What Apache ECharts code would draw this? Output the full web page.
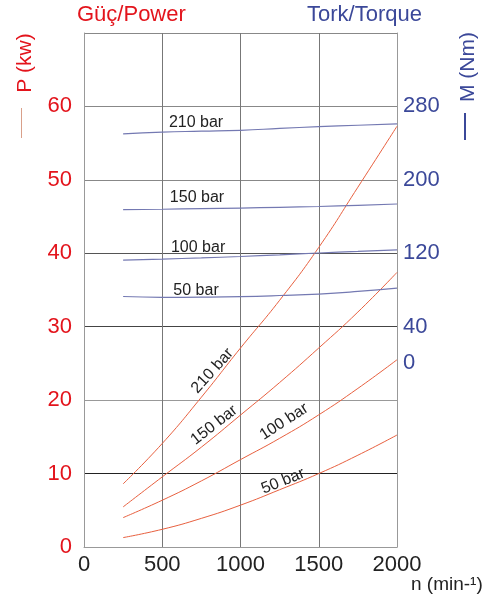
<!DOCTYPE html>
<html>
<head>
<meta charset="utf-8">
<script src="https://cdn.jsdelivr.net/npm/echarts@6/dist/echarts.min.js"></script>
<style>html,body{margin:0;padding:0;background:#fff}#c{width:493px;height:601px}</style>
</head>
<body>
<div id="c"></div>
<script>
// speed n (min-1)
const speeds = [250, 500, 750, 1000, 1250, 1500, 1750, 2000];
// Power P (kW) per pressure
const power210 = [8.6, 14.1, 20.4, 27.1, 33.6, 40.8, 49.0, 57.3];
const power150 = [5.46, 9.55, 13.6, 17.97, 22.4, 27.1, 32.0, 37.4];
const power100 = [4.0, 6.37, 9.0, 11.9, 14.8, 18.0, 21.6, 25.5];
const power50  = [1.28, 2.41, 3.9, 5.7, 7.8, 10.0, 12.5, 15.25];
// Torque M (Nm) per pressure
const torque210 = [250, 252, 253, 254, 256, 258, 259.5, 261];
const torque150 = [167.5, 168, 168.6, 169.3, 170.1, 171, 172.3, 173.7];
const torque100 = [112.6, 113.7, 115, 116.5, 118.3, 120.3, 122, 123.8];
const torque50  = [72.9, 72, 72.2, 72.8, 74, 75.6, 78.4, 82];
// tick labels
const xTicks = [0, 500, 1000, 1500, 2000];
const powerTicks = [0, 10, 20, 30, 40, 50, 60];
const torqueTicks = [0, 40, 120, 200, 280];
const pressures = ['210 bar', '150 bar', '100 bar', '50 bar'];

const RED = '#e3141c', BLUE = '#3b4899', PCOL = '#e8603f', TCOL = '#7479b2';
const FONT = 'Liberation Sans, Arial, sans-serif';

function pairs(ys) { return speeds.map((n, i) => [n, ys[i]]); }
function lbl(text, coord, rot) {
  return { coord: coord, symbolSize: 0, label: { show: true, formatter: text, rotate: rot, color: '#222', fontSize: 16, fontFamily: FONT, position: 'inside' } };
}
function powerSeries(name, ys, coord, rot) {
  return { name: name, type: 'line', xAxisIndex: 0, yAxisIndex: 0, data: pairs(ys), smooth: true, symbol: 'none',
    lineStyle: { color: PCOL, width: 1 }, silent: true, z: 3,
    markPoint: { symbol: 'circle', symbolSize: 0, data: [lbl(name, coord, rot)] } };
}
function torqueSeries(name, ys, coord) {
  return { name: name, type: 'line', xAxisIndex: 0, yAxisIndex: 1, data: pairs(ys), smooth: true, symbol: 'none',
    lineStyle: { color: TCOL, width: 1.2 }, silent: true, z: 3,
    markPoint: { symbol: 'circle', symbolSize: 0, data: [lbl(name, coord, 0)] } };
}

const chart = echarts.init(document.getElementById('c'), null, { renderer: 'canvas' });
chart.setOption({
  animation: false,
  backgroundColor: '#fff',
  grid: { left: 84, right: 96, top: 33, bottom: 54, outerBoundsMode: 'none', containLabel: false },
  xAxis: {
    type: 'value', min: 0, max: 2000, interval: 500,
    axisLine: { show: true, lineStyle: { color: '#999', width: 1 } },
    axisTick: { show: false },
    splitLine: { show: true, lineStyle: { color: '#777', width: 1 } },
    axisLabel: { color: '#222', fontSize: 22, fontFamily: FONT, margin: 7,
      formatter: v => xTicks.indexOf(v) >= 0 ? String(v) : '' }
  },
  yAxis: [
    {
      type: 'value', min: 0, max: 70, interval: 10, position: 'left',
      axisLine: { show: true, lineStyle: { color: '#999' } },
      axisTick: { show: false },
      splitLine: { show: true, lineStyle: { color: ['#999', '#222', '#999', '#444', '#555', '#888', '#888', '#888'], width: 1 } },
      axisLabel: { color: RED, fontSize: 22, fontFamily: FONT, margin: 12,
        formatter: v => powerTicks.indexOf(v) >= 0 ? String(v) : '' }
    },
    {
      type: 'value', min: -200, max: 360, interval: 40, position: 'right',
      axisLine: { show: true, lineStyle: { color: '#999' } },
      axisTick: { show: false },
      splitLine: { show: false },
      axisLabel: { color: BLUE, fontSize: 22, fontFamily: FONT, margin: 6,
        formatter: v => torqueTicks.indexOf(v) >= 0 ? String(v) : '' }
    }
  ],
  series: [
    powerSeries(pressures[0], power210, [821, 24.0], 48),
    powerSeries(pressures[1], power150, [831, 16.6], 38),
    powerSeries(pressures[2], power100, [1278, 17.05], 33),
    powerSeries(pressures[3], power50, [1272, 8.96], 22),
    torqueSeries(pressures[0], torque210, [716, 262]),
    torqueSeries(pressures[1], torque150, [722, 180.4]),
    torqueSeries(pressures[2], torque100, [729, 126]),
    torqueSeries(pressures[3], torque50, [716, 79])
  ],
  graphic: [
    { type: 'text', left: 77, top: 4, style: { text: 'Güç/Power', fill: RED, font: '22px ' + FONT } },
    { type: 'text', left: 307, top: 4, style: { text: 'Tork/Torque', fill: BLUE, font: '22px ' + FONT } },
    { type: 'text', left: 411, top: 575, style: { text: 'n (min-¹)', fill: '#222', font: '19px ' + FONT } },
    { type: 'text', x: 25, y: 63, rotation: Math.PI / 2, style: { text: 'P (kw)', fill: RED, font: '21px ' + FONT, align: 'center', verticalAlign: 'middle' } },
    { type: 'line', shape: { x1: 21.5, y1: 108, x2: 21.5, y2: 138 }, style: { stroke: '#d9a08a', lineWidth: 1 } },
    { type: 'text', x: 468, y: 67, rotation: Math.PI / 2, style: { text: 'M (Nm)', fill: BLUE, font: '21px ' + FONT, align: 'center', verticalAlign: 'middle' } },
    { type: 'line', shape: { x1: 465, y1: 113, x2: 465, y2: 140 }, style: { stroke: BLUE, lineWidth: 2 } }
  ]
});
</script>
</body>
</html>
